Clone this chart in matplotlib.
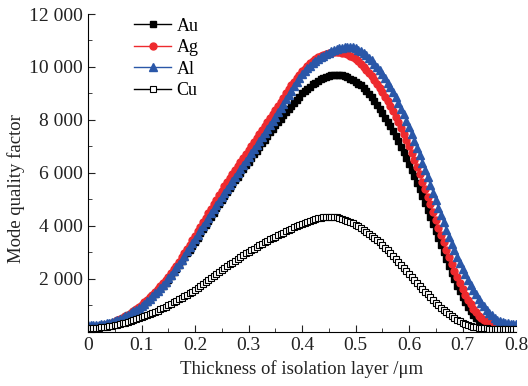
import numpy as np
import matplotlib
matplotlib.use("Agg")
import matplotlib.pyplot as plt
from matplotlib.ticker import MultipleLocator, FuncFormatter

plt.rcParams['font.family'] = ['Liberation Serif', 'DejaVu Serif']

# thickness of isolation layer (um), sampled every 0.005
thickness = np.round(np.arange(0, 161) * 0.005, 3)

# mode quality factor
au = [150, 160, 170, 185, 200, 220, 240, 265, 290, 325,
      360, 405, 450, 505, 560, 620, 680, 750, 820, 895,
      970, 1055, 1140, 1235, 1330, 1430, 1530, 1635, 1740, 1850,
      1960, 2100, 2240, 2380, 2520, 2665, 2810, 2955, 3100, 3250,
      3400, 3555, 3710, 3865, 4020, 4180, 4340, 4500, 4660, 4820,
      4980, 5125, 5270, 5420, 5570, 5715, 5860, 6000, 6140, 6280,
      6420, 6560, 6700, 6840, 6980, 7115, 7250, 7390, 7530, 7665,
      7800, 7925, 8050, 8170, 8290, 8405, 8520, 8640, 8760, 8880,
      9000, 9090, 9180, 9260, 9340, 9410, 9480, 9535, 9590, 9625,
      9660, 9680, 9700, 9705, 9700, 9680, 9650, 9605, 9560, 9505,
      9450, 9375, 9300, 9200, 9100, 8980, 8860, 8715, 8570, 8410,
      8250, 8090, 7930, 7755, 7580, 7385, 7190, 6985, 6780, 6565,
      6350, 6115, 5880, 5635, 5390, 5135, 4880, 4615, 4350, 4085,
      3820, 3550, 3280, 3015, 2750, 2490, 2230, 1985, 1740, 1520,
      1300, 1115, 930, 785, 640, 535, 430, 365, 300, 265,
      230, 210, 190, 180, 170, 165, 160, 155, 150, 150,
      150]
ag = [120, 135, 150, 170, 190, 215, 240, 270, 300, 340,
      380, 425, 470, 525, 580, 645, 710, 785, 860, 940,
      1020, 1110, 1200, 1300, 1400, 1505, 1610, 1720, 1830, 1950,
      2070, 2210, 2350, 2500, 2650, 2805, 2960, 3125, 3290, 3455,
      3620, 3790, 3960, 4130, 4300, 4470, 4640, 4815, 4990, 5160,
      5330, 5485, 5640, 5795, 5950, 6105, 6260, 6410, 6560, 6710,
      6860, 7015, 7170, 7325, 7480, 7630, 7780, 7930, 8080, 8225,
      8370, 8530, 8690, 8845, 9000, 9150, 9300, 9440, 9580, 9705,
      9830, 9940, 10050, 10140, 10230, 10300, 10370, 10420, 10470, 10500,
      10530, 10545, 10560, 10565, 10560, 10540, 10520, 10475, 10430, 10365,
      10300, 10210, 10120, 10010, 9900, 9775, 9650, 9510, 9370, 9210,
      9050, 8875, 8700, 8510, 8320, 8115, 7910, 7690, 7470, 7235,
      7000, 6745, 6490, 6220, 5950, 5670, 5390, 5100, 4810, 4515,
      4220, 3935, 3650, 3370, 3090, 2820, 2550, 2300, 2050, 1825,
      1600, 1400, 1200, 1035, 870, 740, 610, 520, 430, 375,
      320, 285, 250, 230, 210, 200, 190, 185, 180, 180,
      180]
al = [240, 245, 250, 260, 270, 285, 300, 320, 340, 370,
      400, 440, 480, 530, 580, 640, 700, 765, 830, 900,
      970, 1060, 1150, 1245, 1340, 1445, 1550, 1660, 1770, 1890,
      2010, 2145, 2280, 2425, 2570, 2720, 2870, 3030, 3190, 3350,
      3510, 3670, 3830, 3990, 4150, 4310, 4470, 4630, 4790, 4945,
      5100, 5250, 5400, 5550, 5700, 5855, 6010, 6160, 6310, 6460,
      6610, 6760, 6910, 7060, 7210, 7365, 7520, 7670, 7820, 7970,
      8120, 8285, 8450, 8615, 8780, 8945, 9110, 9275, 9440, 9580,
      9720, 9835, 9950, 10045, 10140, 10220, 10300, 10365, 10430, 10485,
      10540, 10585, 10630, 10665, 10700, 10720, 10740, 10755, 10770, 10745,
      10705, 10655, 10595, 10525, 10445, 10350, 10245, 10130, 10005, 9870,
      9725, 9570, 9405, 9230, 9045, 8850, 8645, 8430, 8205, 7970,
      7725, 7470, 7210, 6940, 6670, 6390, 6110, 5825, 5540, 5255,
      4970, 4685, 4400, 4125, 3850, 3590, 3330, 3085, 2840, 2610,
      2380, 2170, 1960, 1765, 1580, 1410, 1250, 1100, 960, 835,
      720, 620, 530, 460, 400, 360, 330, 310, 295, 285,
      280]
cu = [120, 125, 130, 140, 150, 160, 170, 185, 200, 220,
      240, 265, 290, 315, 340, 370, 400, 435, 470, 505,
      540, 580, 620, 665, 710, 755, 800, 850, 900, 950,
      1000, 1055, 1110, 1165, 1220, 1275, 1330, 1390, 1450, 1510,
      1570, 1645, 1720, 1795, 1870, 1945, 2020, 2095, 2170, 2250,
      2330, 2400, 2470, 2540, 2610, 2680, 2750, 2820, 2890, 2955,
      3020, 3080, 3140, 3200, 3260, 3320, 3380, 3435, 3490, 3540,
      3590, 3640, 3690, 3740, 3790, 3840, 3890, 3940, 3990, 4035,
      4080, 4120, 4160, 4195, 4230, 4260, 4290, 4310, 4330, 4340,
      4350, 4345, 4340, 4315, 4280, 4250, 4220, 4180, 4140, 4090,
      4040, 3980, 3920, 3850, 3780, 3705, 3630, 3545, 3460, 3370,
      3280, 3180, 3080, 2975, 2870, 2760, 2650, 2535, 2420, 2305,
      2190, 2075, 1960, 1845, 1730, 1620, 1510, 1405, 1300, 1200,
      1100, 1005, 910, 825, 740, 660, 580, 515, 450, 395,
      340, 295, 250, 220, 190, 170, 150, 140, 130, 125,
      120, 120, 120, 120, 120, 120, 120, 120, 120, 120,
      120]

for name, s in [('au', au), ('ag', ag), ('al', al), ('cu', cu)]:
    assert len(s) == len(thickness), (name, len(s))

fig = plt.figure(figsize=(5.28, 3.86), dpi=100)
ax = fig.add_axes([0.1667, 0.1407, 0.8106, 0.823])

ax.plot(thickness, au, color='black', marker='s', ms=4.6, lw=1, label='Au')
ax.plot(thickness, ag, color='#ee2a2e', marker='o', ms=5.0, lw=1, label='Ag')
ax.plot(thickness, al, color='#2a57a8', marker='^', ms=5.4, lw=1, label='Al')
ax.plot(thickness, cu, color='black', marker='s', ms=4.3, mfc='white',
        mew=0.8, lw=1, label='Cu')

ax.set_xlim(0, 0.8)
ax.set_ylim(0, 12000)
ax.xaxis.set_major_locator(MultipleLocator(0.1))
ax.xaxis.set_minor_locator(MultipleLocator(0.05))
ax.yaxis.set_major_locator(MultipleLocator(2000))
ax.yaxis.set_minor_locator(MultipleLocator(1000))

def yfmt(v, pos):
    if v == 0:
        return ''
    return '{:,}'.format(int(v)).replace(',', ' ')

def xfmt(v, pos):
    if abs(v) < 1e-9:
        return '0'
    return '{:g}'.format(round(v, 2))

ax.yaxis.set_major_formatter(FuncFormatter(yfmt))
ax.xaxis.set_major_formatter(FuncFormatter(xfmt))

for s in ['top', 'right']:
    ax.spines[s].set_visible(False)
ax.tick_params(which='both', direction='in', labelsize=14, color='#222222',
               labelcolor='#222222')
ax.tick_params(which='major', length=5)
ax.tick_params(which='minor', length=3)
ax.tick_params(axis='x', pad=4)

ax.set_xlabel('Thickness of isolation layer /\u03bcm', fontsize=13.5,
              labelpad=4, color='#222222')
ax.set_ylabel('Mode quality factor', fontsize=13.5, color='#222222')
ax.yaxis.set_label_coords(-0.147, 0.45)

ax.legend(loc='upper left', bbox_to_anchor=(0.07, 1.04), frameon=False,
          fontsize=13, handlelength=2.05, handletextpad=0.3,
          labelspacing=0.25)

fig.savefig('out.png', dpi=100)
